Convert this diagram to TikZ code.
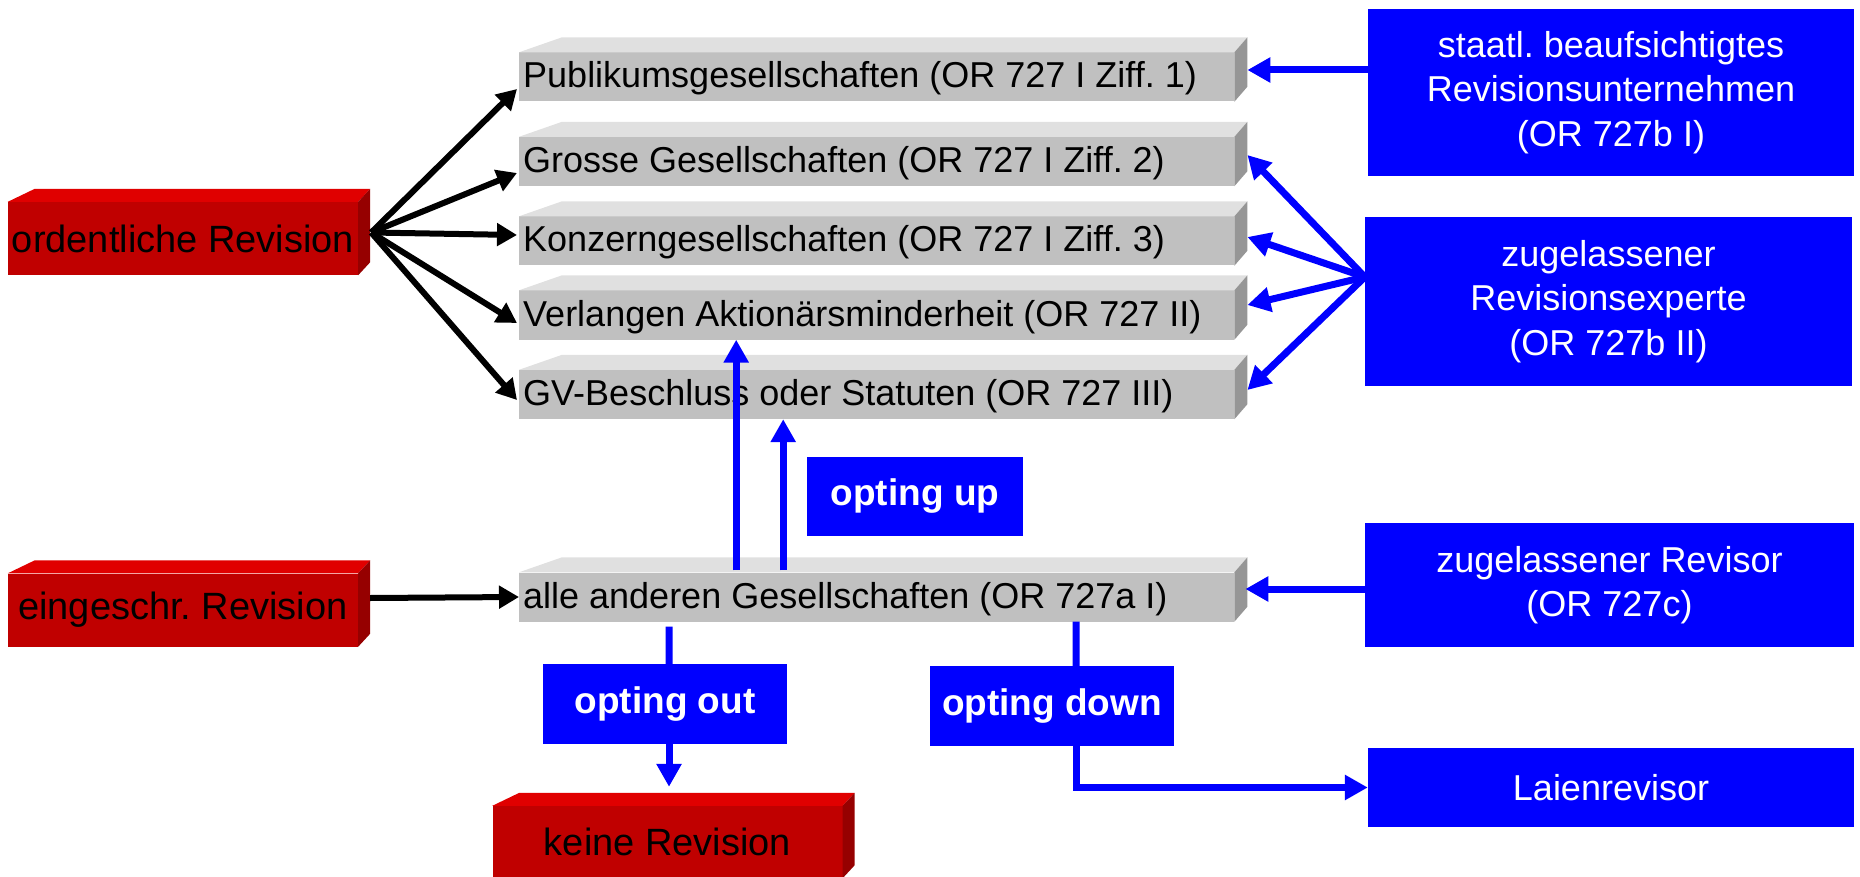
\documentclass[tikz,border=0pt]{standalone}
\usepackage{fontspec}
\setmainfont{Liberation Sans}
\frenchspacing
\usetikzlibrary{arrows.meta, positioning}

\definecolor{redfront}{RGB}{192,0,0}
\definecolor{redtop}{RGB}{224,0,0}
\definecolor{redside}{RGB}{150,0,0}
\definecolor{grayfront}{RGB}{192,192,192}
\definecolor{graytop}{RGB}{224,224,224}
\definecolor{grayside}{RGB}{150,150,150}
\definecolor{revblue}{RGB}{0,0,255}

% one line of text, left aligned on the grey bar
\newcommand{\barline}[1]{\makebox[707pt][l]{#1}}

\begin{document}
\begin{tikzpicture}[
  x=1pt, y=-1pt,
  txt/.style={font=\fontsize{36}{44.5}\selectfont, inner sep=0pt},
  redbox/.style={txt, font=\fontsize{38}{44.5}\selectfont, fill=redfront,
                 minimum width=350pt, minimum height=73pt},
  graybox/.style={txt, fill=grayfront, inner xsep=4pt, minimum height=49pt,
                  text height=28pt, text depth=6pt, anchor=west},
  bluebox/.style={txt, fill=revblue, text=white, align=center},
  optbox/.style={bluebox, font=\fontsize{37}{44.5}\selectfont\bfseries,
                 minimum width=244pt, minimum height=80pt},
  arr/.style={-{Triangle[length=20pt, width=22pt]}, line width=6pt},
  bline/.style={line width=7pt, revblue},
  barr/.style={bline, -{Triangle[length=23pt, width=24pt]}}
]
  \useasboundingbox (0,0) rectangle (1860,877);

  % revision types
  \node[redbox] (ord)   at (183,238.5) {ordentliche Revision};
  \node[redbox] (einge) at (183,610)   {eingeschr. Revision};
  \node[redbox, minimum height=72pt] (keine) at (667.5,842) {keine Revision};

  % companies
  \node[graybox] (pub)   at (519,77)    {\barline{Publikumsgesellschaften (OR 727 I Ziff. 1)}};
  \node[graybox] (gross) at (519,161.5) {\barline{Grosse Gesellschaften (OR 727 I Ziff. 2)}};
  \node[graybox] (konz)  at (519,241)   {\barline{Konzerngesellschaften (OR 727 I Ziff. 3)}};
  \node[graybox] (verl)  at (519,315)   {\barline{Verlangen Aktionärsminderheit (OR 727 II)}};
  \node[graybox] (gv)    at (519,394.5) {\barline{GV-Beschluss oder Statuten (OR 727 III)}};
  \node[graybox] (alle)  at (519,597)   {\barline{alle anderen Gesellschaften (OR 727a I)}};

  % auditors
  \node[bluebox, minimum width=486pt, minimum height=167pt] (staatl) at (1611,92.5)
        {staatl. beaufsichtigtes\\Revisionsunternehmen\\(OR 727b I)};
  \node[bluebox, minimum width=487pt, minimum height=169pt] (experte) at (1608.5,301.5)
        {zugelassener\\Revisionsexperte\\(OR 727b II)};
  \node[bluebox, minimum width=489pt, minimum height=124pt] (revisor) at (1609.5,585)
        {zugelassener Revisor\\(OR 727c)};
  \node[bluebox, minimum width=486pt, minimum height=79pt] (laien) at (1611,787.5)
        {Laienrevisor};

  % opting
  \node[optbox, minimum width=216pt, minimum height=79pt] (up) at (915,496.5) {opting up};
  \node[optbox] (out)  at (665,704)  {opting out};
  \node[optbox] (down) at (1052,706) {opting down};

  % 3d faces
  \foreach \n in {pub,gross,konz,verl,gv,alle} {
    \fill[graytop] (\n.north west) -- ++(43,-15) -- ([shift={(13,-15)}]\n.north east)
      -- (\n.north east) -- cycle;
    \fill[grayside] (\n.north east) -- ++(13,-15) -- ([shift={(13,-15)}]\n.south east)
      -- (\n.south east) -- cycle;
  }
  \foreach \n in {ord,einge,keine} {
    \fill[redtop] (\n.north west) -- ++(27,-13) -- ([shift={(12,-13)}]\n.north east)
      -- (\n.north east) -- cycle;
    \fill[redside] (\n.north east) -- ++(12,-13) -- ([shift={(12,-13)}]\n.south east)
      -- (\n.south east) -- cycle;
  }

  % black arrows
  \coordinate (ordout) at ([shift={(13,-6)}]ord.east);
  \draw[arr] (ordout) -- ([shift={(-2,12)}]pub.west);
  \draw[arr] (ordout) -- ([shift={(-2,11.5)}]gross.west);
  \draw[arr] (ordout) -- ([shift={(-2,-6)}]konz.west);
  \draw[arr] (ordout) -- ([shift={(-2,8)}]verl.west);
  \draw[arr] (ordout) -- ([shift={(-2,5.5)}]gv.west);
  \draw[arr] ([shift={(12,-12)}]einge.east) -- (alle.west);

  % blue arrows
  \draw[barr] ([shift={(0,-22.5)}]staatl.west) -- ([shift={(13,-7)}]pub.east);
  \coordinate (expin) at ([shift={(0,-24.5)}]experte.west);
  \foreach \n/\dy in {gross/-6.5, konz/-4, verl/-10, gv/-4.5}
    \draw[barr] (expin) -- ([shift={(13,\dy)}]\n.east);
  \draw[barr] ([shift={(0,4)}]revisor.west) -- ([shift={(11,-8)}]alle.east);

  \draw[barr] ([shift={(-140.5,-2)}]alle.north) -- ([shift={(-140.5,0)}]verl.south);
  \draw[barr] ([shift={(-93.5,-2)}]alle.north) -- ([shift={(-93.5,0)}]gv.south);

  \draw[bline] ([shift={(-207.5,5)}]alle.south) -- ([shift={(4,0)}]out.north);
  \draw[barr] ([shift={(4,0)}]out.south) -- ([shift={(1.5,-19)}]keine.north);

  \draw[bline] ([shift={(199.5,0)}]alle.south) -- ([shift={(24,0)}]down.north);
  \draw[barr] ([shift={(24,0)}]down.south) |- (laien.west);
\end{tikzpicture}
\end{document}
